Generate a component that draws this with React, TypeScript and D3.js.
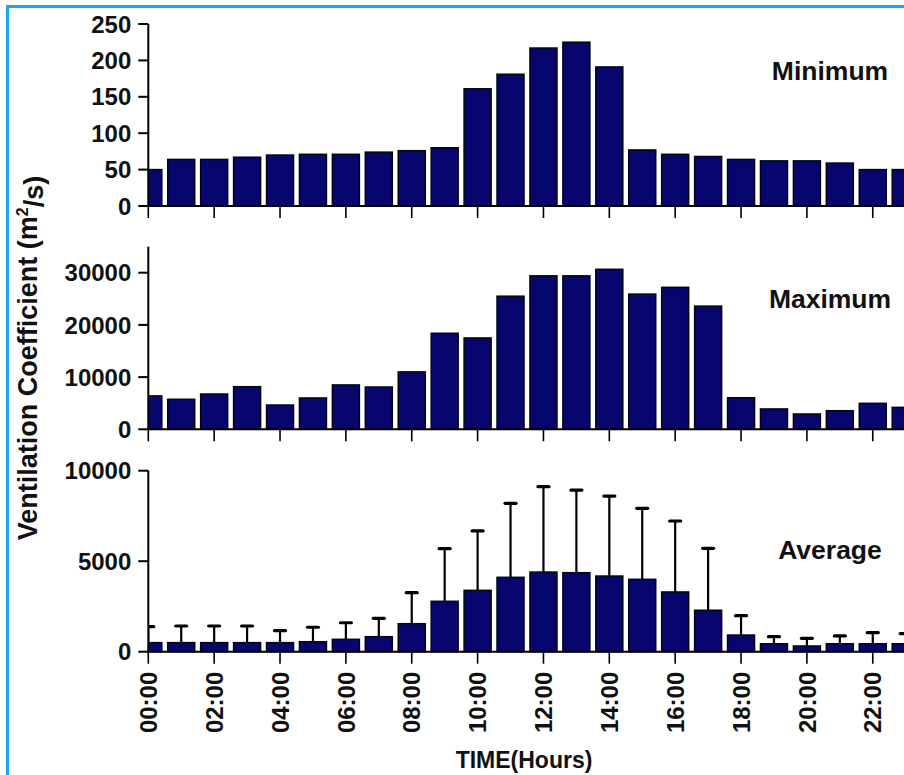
import React from "react";
import * as d3 from "d3";

// ---- data ----
const hours = [0, 1, 2, 3, 4, 5, 6, 7, 8, 9, 10, 11, 12, 13, 14, 15, 16, 17, 18, 19, 20, 21, 22, 23];
const hourTicks = [0, 2, 4, 6, 8, 10, 12, 14, 16, 18, 20, 22];
const hourTickLabels = ["00:00", "02:00", "04:00", "06:00", "08:00", "10:00", "12:00", "14:00", "16:00", "18:00", "20:00", "22:00"];

const minimumValues = [50, 64, 64, 67, 70, 71, 71, 74, 76, 80, 161, 181, 217, 225, 191, 77, 71, 68, 64, 62, 62, 59, 50, 50];
const maximumValues = [6400, 5750, 6760, 8160, 4650, 6000, 8500, 8100, 11000, 18400, 17500, 25500, 29400, 29400, 30650, 25900, 27200, 23600, 6050, 3900, 2930, 3560, 4980, 4200];
const averageValues = [500, 500, 500, 500, 500, 552, 685, 830, 1547, 2785, 3390, 4110, 4400, 4365, 4180, 4000, 3300, 2290, 920, 440, 315, 440, 440, 440];
const averageErrorTop = [1380, 1420, 1420, 1420, 1160, 1350, 1600, 1845, 3260, 5690, 6670, 8200, 9115, 8930, 8600, 7920, 7220, 5710, 1990, 830, 740, 870, 1050, 1000];

const minimumTicks = [0, 50, 100, 150, 200, 250];
const maximumTicks = [0, 10000, 20000, 30000];
const averageTicks = [0, 5000, 10000];

const panelNames = ["Minimum", "Maximum", "Average"];

// ---- layout ----
const W = 904;
const H = 775;
const AXIS_X = 148.3;
const HOUR_W = 32.93;
const BAR_W = 27;
const FILL = "#06066e";
const FONT = "'Liberation Sans', Arial, sans-serif";

const x = d3.scaleLinear().domain([0, 23]).range([AXIS_X, AXIS_X + 23 * HOUR_W]);

type Panel = {
  name: string;
  values: number[];
  ticks: number[];
  domainMax: number;
  y0: number;
  y1: number;
  errors?: number[];
  labelY: number;
};

const panels: Panel[] = [
  { name: panelNames[0], values: minimumValues, ticks: minimumTicks, domainMax: 250, y0: 206, y1: 24, labelY: 80 },
  { name: panelNames[1], values: maximumValues, ticks: maximumTicks, domainMax: 35000, y0: 429.3, y1: 246.6, labelY: 308 },
  { name: panelNames[2], values: averageValues, ticks: averageTicks, domainMax: 10000, y0: 651.7, y1: 470.7, errors: averageErrorTop, labelY: 559 },
];

function PanelView({ p, idx, last }: { p: Panel; idx: number; last: boolean }) {
  const y = d3.scaleLinear().domain([0, p.domainMax]).range([p.y0, p.y1]);
  const clipId = `clip-${idx}`;
  return (
    <g>
      <defs>
        <clipPath id={clipId}>
          <rect x={AXIS_X} y={0} width={W} height={H} />
        </clipPath>
      </defs>
      <g clipPath={`url(#${clipId})`}>
        {p.errors &&
          hours.map((h, i) => (
            <g key={`e${h}`}>
              <line x1={x(h)} x2={x(h)} y1={y(p.values[i])} y2={y(p.errors![i])} stroke="#000" strokeWidth={2.2} />
              <line x1={x(h) - 5.5} x2={x(h) + 5.5} y1={y(p.errors![i])} y2={y(p.errors![i])} stroke="#000" strokeWidth={3.2} strokeLinecap="round" />
            </g>
          ))}
        {hours.map((h, i) => (
          <rect
            key={h}
            x={x(h) - BAR_W / 2}
            y={y(p.values[i])}
            width={BAR_W}
            height={p.y0 - y(p.values[i])}
            fill={FILL}
            stroke="#050510"
            strokeWidth={1.5}
          />
        ))}
      </g>
      {/* y axis */}
      <line x1={AXIS_X} x2={AXIS_X} y1={p.y1} y2={p.y0} stroke="#000" strokeWidth={2} />
      {p.ticks.map((t) => (
        <g key={t}>
          <line x1={AXIS_X - 10} x2={AXIS_X} y1={y(t)} y2={y(t)} stroke="#000" strokeWidth={2} />
          <text
            x={AXIS_X - 17}
            y={y(t)}
            dy="0.36em"
            textAnchor="end"
            fontFamily={FONT}
            fontWeight="bold"
            fontSize={24}
            fill="#111"
          >
            {t}
          </text>
        </g>
      ))}
      {/* x axis */}
      <line x1={AXIS_X - 1} x2={W} y1={p.y0} y2={p.y0} stroke="#000" strokeWidth={2} />
      {hourTicks.map((h, i) => (
        <g key={h}>
          <line x1={x(h)} x2={x(h)} y1={p.y0} y2={p.y0 + 12} stroke="#000" strokeWidth={1.6} />
          {last && (
            <text
              transform={`translate(${x(h)},${p.y0 + 20}) rotate(-90)`}
              dy="0.36em"
              textAnchor="end"
              fontFamily={FONT}
              fontWeight="bold"
              fontSize={24}
              fill="#111"
            >
              {hourTickLabels[i]}
            </text>
          )}
        </g>
      ))}
      <text x={830} y={p.labelY} textAnchor="middle" fontFamily={FONT} fontWeight="bold" fontSize={26.5} fill="#111">
        {p.name}
      </text>
    </g>
  );
}

export default function App() {
  return (
    <svg width={W} height={H} style={{ position: "absolute", left: 0, top: 0, background: "#fff" }}>
      <rect x={0} y={0} width={W} height={H} fill="#fff" />
      {panels.map((p, i) => (
        <PanelView key={p.name} p={p} idx={i} last={i === panels.length - 1} />
      ))}
      <text
        transform={`translate(37,358) rotate(-90)`}
        textAnchor="middle"
        fontFamily={FONT}
        fontWeight="bold"
        fontSize={27}
        fill="#111"
      >
        Ventilation Coefficient (m
        <tspan dy="-0.55em" fontSize={16}>2</tspan>
        <tspan dy="0.55em">/s)</tspan>
      </text>
      <text x={524} y={768} textAnchor="middle" fontFamily={FONT} fontWeight="bold" fontSize={23} fill="#111">
        TIME(Hours)
      </text>
      {/* frame */}
      <line x1={7.5} x2={7.5} y1={5} y2={H} stroke="#1aa9ee" strokeWidth={3} />
      <line x1={6} x2={W} y1={6.5} y2={6.5} stroke="#1aa9ee" strokeWidth={3} />
    </svg>
  );
}
